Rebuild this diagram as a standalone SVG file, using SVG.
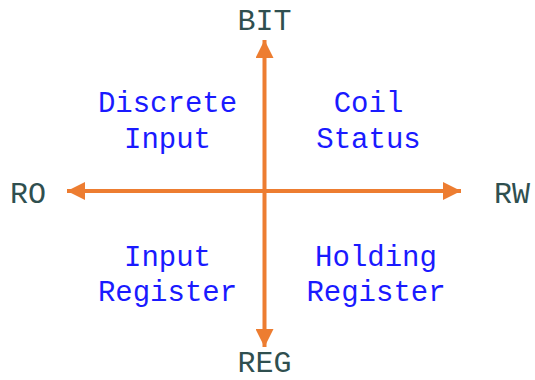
<svg xmlns="http://www.w3.org/2000/svg" width="535" height="380" viewBox="0 0 535 380">
<defs>
<style>
.axis{font-family:"Liberation Mono","Courier New",monospace;font-size:30px;fill:#2f4f4f;text-anchor:middle}
.quad{font-family:"Liberation Mono","Courier New",monospace;font-size:29px;fill:#1a1aff;text-anchor:middle}
.line{stroke:#ed7d31;stroke-width:4;fill:none}
</style>
<marker id="ah" viewBox="0 0 10 10" refX="10" refY="5" markerWidth="18" markerHeight="18" markerUnits="userSpaceOnUse" orient="auto">
<path d="M0,0 L10,5 L0,10 Z" fill="#ed7d31"/>
</marker>
</defs>
<rect width="535" height="380" fill="#ffffff"/>
<g id="connectors">
<line class="line" x1="264.5" y1="191" x2="264.5" y2="40" marker-end="url(#ah)"/>
<line class="line" x1="264.5" y1="191" x2="264.5" y2="347" marker-end="url(#ah)"/>
<line class="line" x1="264.5" y1="191" x2="67" y2="191" marker-end="url(#ah)"/>
<line class="line" x1="264.5" y1="191" x2="461" y2="191" marker-end="url(#ah)"/>
</g>
<g id="bit"><text class="axis" x="264.5" y="30">BIT</text></g>
<g id="reg"><text class="axis" x="264.5" y="372">REG</text></g>
<g id="ro"><text class="axis" x="28" y="203">RO</text></g>
<g id="rw"><text class="axis" x="512" y="203">RW</text></g>
<g id="discrete-input"><text class="quad" x="167.5" y="112">Discrete</text><text class="quad" x="167.5" y="148">Input</text></g>
<g id="coil-status"><text class="quad" x="368.5" y="112">Coil</text><text class="quad" x="368.5" y="148">Status</text></g>
<g id="input-register"><text class="quad" x="167.5" y="266">Input</text><text class="quad" x="167.5" y="301">Register</text></g>
<g id="holding-register"><text class="quad" x="376" y="266">Holding</text><text class="quad" x="376" y="301">Register</text></g>
</svg>
